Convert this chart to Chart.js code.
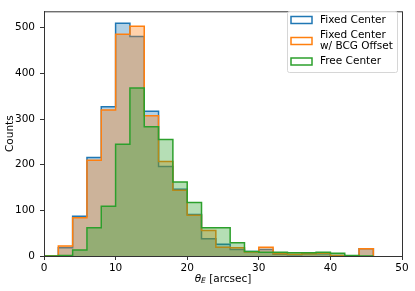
<!DOCTYPE html>
<html>
<head>
<meta charset="utf-8">
<script src="https://cdn.jsdelivr.net/npm/chart.js@4/dist/chart.umd.min.js"></script>
<style>
    html, body { margin: 0; padding: 0; background: #fff; }
    #wrap { width: 415px; height: 291px; }
</style>
</head>
<body>
<div id="wrap"><canvas id="histChart" width="415" height="291"></canvas></div>
<script>
// bin edges (arcsec) and counts per bin
const binEdges = [0, 2, 4, 6, 8, 10, 12, 14, 16, 18, 20, 22, 24, 26, 28, 30, 32, 34, 36, 38, 40, 42, 44, 46];

const fixedCenter = [0, 18, 87, 216, 327, 510, 481, 317, 196, 146, 91, 38, 26, 14, 10, 14, 4, 3, 5, 5, 1, 0, 16];
const fixedBcg    = [0, 22, 84, 210, 320, 486, 503, 307, 207, 144, 89, 56, 19, 18, 9, 19, 5, 4, 5, 6, 1, 0, 16];
const freeCenter  = [0, 1, 13, 62, 109, 245, 368, 283, 255, 162, 117, 62, 62, 29, 10, 8, 8, 7, 7, 8, 6, 1, 0];

const seriesLabels = ['Fixed Center', 'Fixed Center\nw/ BCG Offset', 'Free Center'];
const xTicks = [0, 10, 20, 30, 40, 50];
const yTicks = [0, 100, 200, 300, 400, 500];

const FONT = 'DejaVu Sans';
const FSIZE = 10.5;

// turn bin counts into the outline of a step histogram
function stepPoints(counts) {
    const pts = [{ x: binEdges[0], y: 0 }];
    counts.forEach((c, i) => {
        pts.push({ x: binEdges[i], y: c });
        pts.push({ x: binEdges[i + 1], y: c });
    });
    pts.push({ x: binEdges[counts.length], y: 0 });
    return pts;
}

function makeDataset(label, counts, color, fillColor, order) {
    return {
        label: label,
        data: stepPoints(counts),
        borderColor: color,
        backgroundColor: fillColor,
        borderWidth: 1.5,
        pointRadius: 0,
        tension: 0,
        fill: 'origin',
        order: order
    };
}

// top/right spines like matplotlib
const framePlugin = {
    id: 'frame',
    afterDraw(chart) {
        const { ctx, chartArea: a } = chart;
        ctx.save();
        ctx.strokeStyle = '#333';
        ctx.lineWidth = 1;
        ctx.strokeRect(a.left + 0.5, a.top + 0.5, a.right - a.left, a.bottom - a.top);
        ctx.restore();
    }
};

// legend box in upper right, second label on two lines
const legendPlugin = {
    id: 'mplLegend',
    afterDraw(chart) {
        const ctx = chart.ctx;
        const x0 = 287, y0 = 11, w = 110, h = 61;
        ctx.save();
        ctx.beginPath();
        ctx.roundRect(x0 + 0.5, y0 + 0.5, w, h, 2);
        ctx.fillStyle = 'rgba(255,255,255,0.8)';
        ctx.fill();
        ctx.strokeStyle = '#d6d6d6';
        ctx.lineWidth = 1;
        ctx.stroke();

        const rows = [20, 41, 61.5];
        ctx.font = FSIZE + 'px "' + FONT + '"';
        ctx.textBaseline = 'middle';
        ctx.textAlign = 'left';
        chart.data.datasets.forEach((ds, i) => {
            const cy = rows[i];
            ctx.strokeStyle = ds.borderColor;
            ctx.lineWidth = 1.5;
            ctx.strokeRect(291, cy - 3.5, 21, 7);
            ctx.fillStyle = '#000';
            const lines = seriesLabels[i].split('\n');
            const lh = 11;
            lines.forEach((ln, j) => {
                ctx.fillText(ln, 320, cy + (j - (lines.length - 1) / 2) * lh);
            });
        });
        ctx.restore();
    }
};

// x label with subscript: theta_E [arcsec]
const xTitlePlugin = {
    id: 'xTitle',
    afterDraw(chart) {
        const ctx = chart.ctx;
        const a = chart.chartArea;
        const cx = (a.left + a.right) / 2;
        const y = 279;
        ctx.save();
        ctx.fillStyle = '#000';
        ctx.textBaseline = 'middle';
        ctx.textAlign = 'left';
        const fMain = 'italic ' + FSIZE + 'px "' + FONT + '"';
        const fSub = 'italic 7.5px "' + FONT + '"';
        const fRest = FSIZE + 'px "' + FONT + '"';
        ctx.font = fMain; const w1 = ctx.measureText('θ').width;
        ctx.font = fSub; const w2 = ctx.measureText('E').width;
        ctx.font = fRest; const w3 = ctx.measureText(' [arcsec]').width;
        let x = cx - (w1 + w2 + w3) / 2;
        ctx.font = fMain; ctx.fillText('θ', x, y); x += w1;
        ctx.font = fSub; ctx.fillText('E', x, y + 2.5); x += w2;
        ctx.font = fRest; ctx.fillText(' [arcsec]', x, y);
        ctx.restore();
    }
};

const ctx = document.getElementById('histChart').getContext('2d');
new Chart(ctx, {
    type: 'line',
    data: {
        datasets: [
            makeDataset(seriesLabels[0], fixedCenter, '#1f77b4', 'rgba(31,119,180,0.35)', 3),
            makeDataset(seriesLabels[1], fixedBcg, '#ff7f0e', 'rgba(255,127,14,0.35)', 2),
            makeDataset(seriesLabels[2], freeCenter, '#2ca02c', 'rgba(44,160,44,0.35)', 1)
        ]
    },
    options: {
        responsive: false,
        animation: false,
        devicePixelRatio: 1,
        layout: { padding: { top: 6, right: 13, left: 0, bottom: 0 } },
        plugins: {
            legend: { display: false },
            tooltip: { enabled: false }
        },
        scales: {
            x: {
                type: 'linear',
                min: 0,
                max: 50,
                afterBuildTicks: (scale) => { scale.ticks = xTicks.map(v => ({ value: v })); },
                afterFit: (scale) => { scale.height = 35; },
                grid: { drawOnChartArea: false, drawTicks: true, tickLength: 4, color: '#333' },
                border: { display: true, color: '#333', width: 1 },
                ticks: { padding: 2, color: '#000', font: { family: FONT, size: FSIZE }, maxRotation: 0 }
            },
            y: {
                type: 'linear',
                min: 0,
                max: 536,
                afterBuildTicks: (scale) => { scale.ticks = yTicks.map(v => ({ value: v })); },
                afterFit: (scale) => { scale.width = 44; },
                grid: { drawOnChartArea: false, drawTicks: true, tickLength: 4, color: '#333' },
                border: { display: true, color: '#333', width: 1 },
                ticks: { padding: 5, color: '#000', font: { family: FONT, size: FSIZE } },
                title: { display: true, text: 'Counts', color: '#000', font: { family: FONT, size: FSIZE }, padding: { top: 4, bottom: 0 } }
            }
        }
    },
    plugins: [framePlugin, legendPlugin, xTitlePlugin]
});
</script>
</body>
</html>
